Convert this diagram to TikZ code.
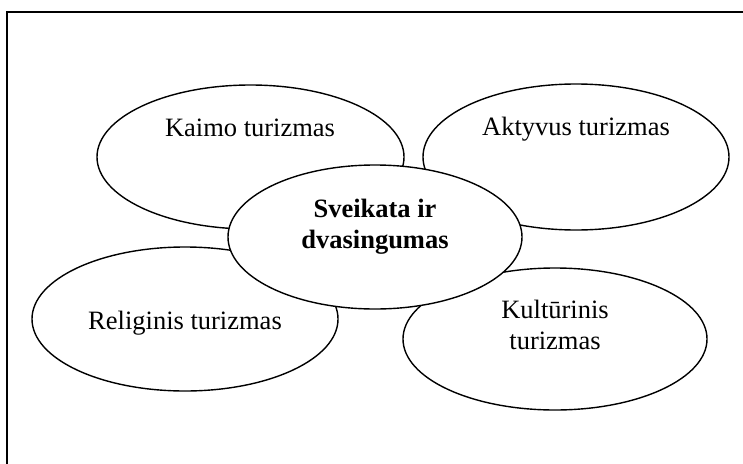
\documentclass[tikz,border=0pt]{standalone}
\usepackage{fontspec}
\setmainfont{Liberation Serif}
\usetikzlibrary{shapes.geometric}
\tikzset{
  bubble/.style={ellipse, draw=black, fill=white, line width=1.4pt, inner sep=0pt},
  lbl/.style={anchor=base, inner sep=0pt, font=\fontsize{26.5}{30.5}\selectfont, align=center},
}
\begin{document}
\begin{tikzpicture}[x=1pt,y=-1pt]
\useasboundingbox (0,0) rectangle (743,463);
\clip (0,0) rectangle (743,463);
\draw[line width=1.4pt] (7,12) rectangle (770,490);
% outer bubbles
\node[bubble, minimum width=307pt, minimum height=144pt] (kaimo) at (250.5,157) {};
\node[bubble, minimum width=306pt, minimum height=146pt] (akt) at (576,157) {};
\node[bubble, minimum width=306pt, minimum height=144pt] (rel) at (185,319) {};
\node[bubble, minimum width=304pt, minimum height=142pt] (kult) at (555,339) {};
% center bubble
\node[bubble, minimum width=294pt, minimum height=144pt] (center) at (375,237) {};
% labels
\node[lbl] (tkaimo) at (250,136) {Kaimo turizmas};
\node[lbl] (takt) at (576,135) {Aktyvus turizmas};
\node[lbl] (trel) at (185,329) {Religinis turizmas};
\node[lbl] (tkult) at (555,349) {Kultūrinis\\turizmas};
\node[lbl, font=\fontsize{26.5}{30.5}\selectfont\bfseries] (tcenter) at (375,248) {Sveikata ir\\dvasingumas};
\end{tikzpicture}
\end{document}
